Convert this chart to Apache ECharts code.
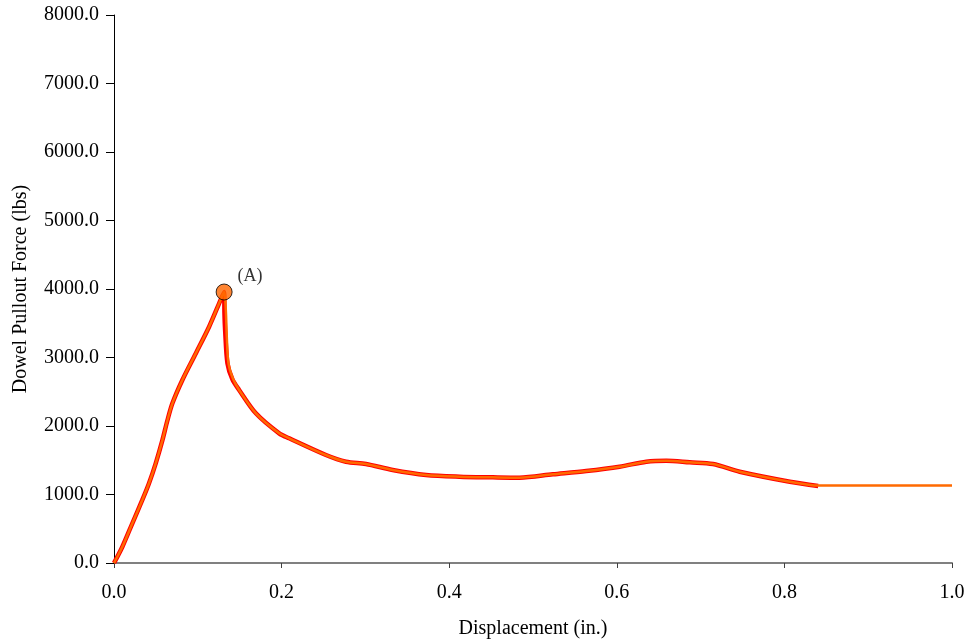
<!DOCTYPE html>
<html>
<head>
<meta charset="utf-8">
<script src="https://cdn.jsdelivr.net/npm/echarts@6/dist/echarts.min.js"></script>
<style>
  html, body { margin: 0; padding: 0; background: #fff; }
  #chart { width: 969px; height: 640px; }
</style>
</head>
<body>
<div id="chart"></div>
<script>
// Pullout test: displacement (in.) vs dowel pullout force (lbs)
const measuredDisp = [0.000, 0.010, 0.0219, 0.0338, 0.0418, 0.0498, 0.0577, 0.0637, 0.0697, 0.0816, 0.0976, 0.1135, 0.1255, 0.1314,
  0.1318, 0.1326, 0.1354, 0.1413, 0.1493, 0.1693, 0.1971, 0.2091, 0.2529, 0.2768, 0.3007, 0.3325, 0.3724,
  0.4122, 0.4520, 0.4839, 0.5237, 0.5635, 0.6033, 0.6352, 0.6591, 0.6870, 0.7148, 0.7467, 0.8065, 0.8403];
const measuredForce = [0, 238, 580, 920, 1164, 1455, 1790, 2080, 2331, 2672, 3060, 3450, 3791, 3956,
  3650, 3401, 2915, 2680, 2526, 2185, 1893, 1820, 1577, 1479, 1445, 1358, 1285,
  1260, 1251, 1246, 1295, 1343, 1406, 1479, 1494, 1470, 1445, 1333, 1187, 1124];

const modelDisp = [0.000, 0.010, 0.0219, 0.0338, 0.0418, 0.0498, 0.0577, 0.0637, 0.0697, 0.0816, 0.0976, 0.1135, 0.1255, 0.1314,
  0.1334, 0.1346, 0.1366, 0.1420, 0.1493, 0.1693, 0.1971, 0.2091, 0.2529, 0.2768, 0.3007, 0.3325, 0.3724,
  0.4122, 0.4520, 0.4839, 0.5237, 0.5635, 0.6033, 0.6352, 0.6591, 0.6870, 0.7148, 0.7467, 0.8065, 0.8403, 1.000];
const modelForce = [0, 238, 580, 920, 1164, 1455, 1790, 2080, 2331, 2672, 3060, 3450, 3791, 3956,
  3700, 3300, 2915, 2690, 2526, 2185, 1893, 1820, 1577, 1479, 1445, 1358, 1285,
  1260, 1251, 1246, 1295, 1343, 1406, 1479, 1494, 1470, 1445, 1333, 1187, 1130, 1130];

const peakDisp = [0.1314];
const peakForce = [3956];
const peakLabel = '(A)';

const axisFont = "'Liberation Serif', 'Times New Roman', serif";

function pairs(xs, ys) { return xs.map((x, i) => [x, ys[i]]); }

const chart = echarts.init(document.getElementById('chart'));
chart.setOption({
  animation: false,
  grid: { left: 114, right: 17, top: 15, bottom: 77, outerBoundsMode: 'none', containLabel: false },
  xAxis: {
    type: 'value', min: 0, max: 1.0, interval: 0.2,
    name: 'Displacement (in.)', nameLocation: 'middle', nameGap: 56,
    nameTextStyle: { fontFamily: axisFont, fontSize: 20, color: '#000' },
    axisLine: { show: true, lineStyle: { color: '#808080', width: 2 } },
    axisTick: { show: true, length: 5, lineStyle: { color: '#404040' } },
    axisLabel: { fontFamily: axisFont, fontSize: 20, color: '#000', margin: 20,
      formatter: v => v.toFixed(1) },
    splitLine: { show: false }
  },
  yAxis: {
    type: 'value', min: 0, max: 8000, interval: 1000,
    name: 'Dowel Pullout Force (lbs)', nameLocation: 'middle', nameGap: 83,
    nameTextStyle: { fontFamily: axisFont, fontSize: 20, color: '#000' },
    axisLine: { show: true, lineStyle: { color: '#000', width: 1 } },
    axisTick: { show: true, length: 8, lineStyle: { color: '#000' } },
    axisLabel: { fontFamily: axisFont, fontSize: 20, color: '#000', margin: 15,
      formatter: v => v.toFixed(1) },
    splitLine: { show: false }
  },
  series: [
    {
      type: 'line', data: pairs(measuredDisp, measuredForce),
      showSymbol: false, smooth: 0.3,
      lineStyle: { color: '#FF0000', width: 4.5 }
    },
    {
      type: 'line', data: pairs(modelDisp, modelForce),
      showSymbol: false, smooth: 0.3,
      lineStyle: { color: '#FF6A00', width: 2.5 }
    },
    {
      type: 'scatter', data: pairs(peakDisp, peakForce),
      symbol: 'circle', symbolSize: 16,
      itemStyle: { color: '#FF6600', borderColor: '#000', borderWidth: 1 },
      label: { show: true, position: 'right', distance: 5, offset: [0, -16],
        formatter: peakLabel, fontFamily: axisFont, fontSize: 18, color: '#000' },
      z: 5
    }
  ]
});
</script>
</body>
</html>
